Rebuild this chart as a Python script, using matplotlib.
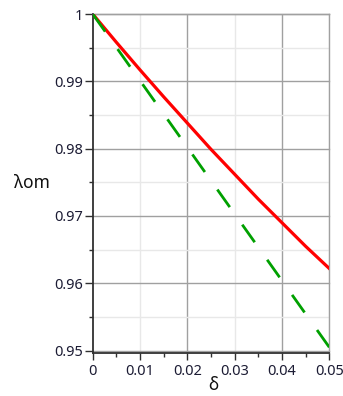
import matplotlib
matplotlib.use("Agg")
import matplotlib.pyplot as plt

# values
delta = [0.0, 0.005, 0.01, 0.015, 0.02, 0.025, 0.03, 0.035, 0.04, 0.045, 0.05]
lam_red = [1.0, 0.9958, 0.9917, 0.9877, 0.9838, 0.9799, 0.9762, 0.9725, 0.9690, 0.9655, 0.9622]
delta_lin = [0.0, 0.05]
lam_green = [1.0, 0.9505]

x_ticks = [0.0, 0.01, 0.02, 0.03, 0.04, 0.05]
x_tick_labels = ["0", "0.01", "0.02", "0.03", "0.04", "0.05"]
y_ticks = [0.95, 0.96, 0.97, 0.98, 0.99, 1.0]
y_tick_labels = ["0.95", "0.96", "0.97", "0.98", "0.99", "1"]
x_minor = [0.005, 0.015, 0.025, 0.035, 0.045]
y_minor = [0.955, 0.965, 0.975, 0.985, 0.995]

plt.rcParams['font.family'] = ['Noto Sans', 'DejaVu Sans']
plt.rcParams['lines.scale_dashes'] = False

fig = plt.figure(figsize=(3.43, 3.96), dpi=100)
ax = fig.add_axes([0.2703, 0.1078, 0.6897, 0.8568])

dark_grid = '#a0a0a0'
light_grid = '#e8e8e8'
for x in x_ticks[1:]:
    c = dark_grid if round(x * 100) % 2 == 0 else light_grid
    ax.axvline(x, color=c, lw=1.0, zorder=0)
for y in y_ticks:
    ax.axhline(y, color=dark_grid, lw=1.0, zorder=0, clip_on=False)
for y in y_minor:
    ax.axhline(y, color=light_grid, lw=1.0, zorder=0)

ax.plot(delta, lam_red, color='#ff0000', lw=2.3, zorder=3)
ax.plot(delta_lin, lam_green, color='#00a000', lw=2.0, dashes=(15.5, 15.5), zorder=4)

ax.set_xlim(0, 0.05)
ax.set_ylim(0.9496, 1.0)

ax.set_xticks(x_ticks)
ax.set_xticklabels(x_tick_labels)
ax.set_yticks(y_ticks)
ax.set_yticklabels(y_tick_labels)
ax.set_xticks(x_minor, minor=True)
ax.set_yticks(y_minor, minor=True)

ax.tick_params(which='major', length=5, width=1, color='#303030', labelsize=10.5,
               labelcolor='#1c1c34', pad=3)
ax.tick_params(axis='y', which='major', length=6, pad=1)
ax.tick_params(which='minor', length=3, width=1, color='#303030')

for side in ['left', 'bottom']:
    ax.spines[side].set_color('#303030')
    ax.spines[side].set_linewidth(1.3)
for side in ['top', 'right']:
    ax.spines[side].set_color(dark_grid)
    ax.spines[side].set_linewidth(1.0)

fig.text(0.094, 0.537, "λom", fontsize=12.5, ha='center', va='center', color='#101010')
fig.text(0.621, 0.028, "δ", fontsize=12.5, ha='center', va='center', color='#101010')

fig.savefig("out.png", dpi=100)
